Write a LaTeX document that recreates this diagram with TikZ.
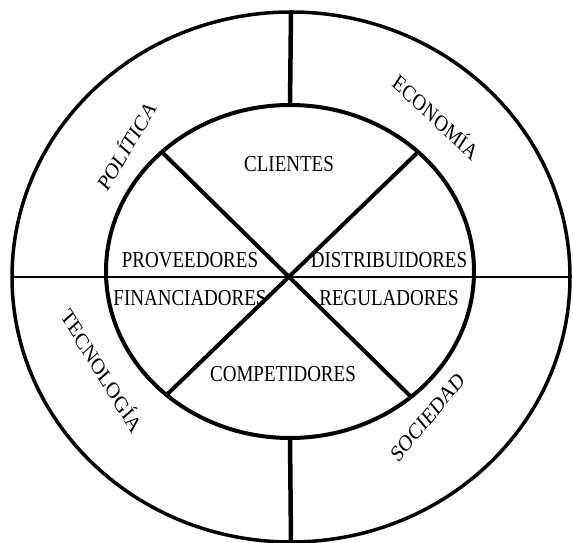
\documentclass[tikz,border=0pt]{standalone}
\usepackage{fontspec}
\setmainfont{Liberation Serif}
\usetikzlibrary{shapes.geometric}
\tikzset{
  ring/.style={
    draw=black,ellipse,inner sep=0pt,outer sep=0pt
  },
  actor/.style={
    font=\fontsize{19}{22}\selectfont,text=black,inner sep=1pt,
    yscale=1.2,transform shape
  },
  factor/.style={
    font=\fontsize{19}{22}\selectfont,text=black,inner sep=1pt,
    yscale=1.2,transform shape
  },
}
\begin{document}
\begin{tikzpicture}[x=1pt,y=1pt]
  \useasboundingbox (0,0) rectangle (573,543);
  \node[ring, line width=3.5pt, minimum width=558pt, minimum height=530pt] (outer) at (291, 266) {};
  \node[ring, line width=4pt, minimum width=368pt, minimum height=333pt] (inner) at (290, 271.5) {};
  \draw[line width=2.2pt] (outer.west) -- (outer.east);
  \draw[line width=4.5pt] (inner.north) -- (outer.north);
  \draw[line width=4.5pt] (inner.south) -- (outer.south);
  \draw[line width=4pt] (inner.137) -- (inner.314);
  \draw[line width=4pt] (inner.43) -- (inner.225);
  % Actores del entorno cercano
  \node[actor] (cli) at (289, 379) {CLIENTES};
  \node[actor] (prov) at (190, 283) {PROVEEDORES};
  \node[actor] (dist) at (389, 283) {DISTRIBUIDORES};
  \node[actor] (fin) at (190, 245) {FINANCIADORES};
  \node[actor] (reg) at (389, 245) {REGULADORES};
  \node[actor] (comp) at (283, 169) {COMPETIDORES};
  % Factores del entorno general
  \node[factor, rotate=54] (pol) at (126, 398) {POLÍTICA};
  \node[factor, rotate=-38] (eco) at (437, 427) {ECONOMÍA};
  \node[factor, rotate=-53.5] (tec) at (103, 173) {TECNOLOGÍA};
  \node[factor, rotate=45] (soc) at (428, 126) {SOCIEDAD};
\end{tikzpicture}
\end{document}
